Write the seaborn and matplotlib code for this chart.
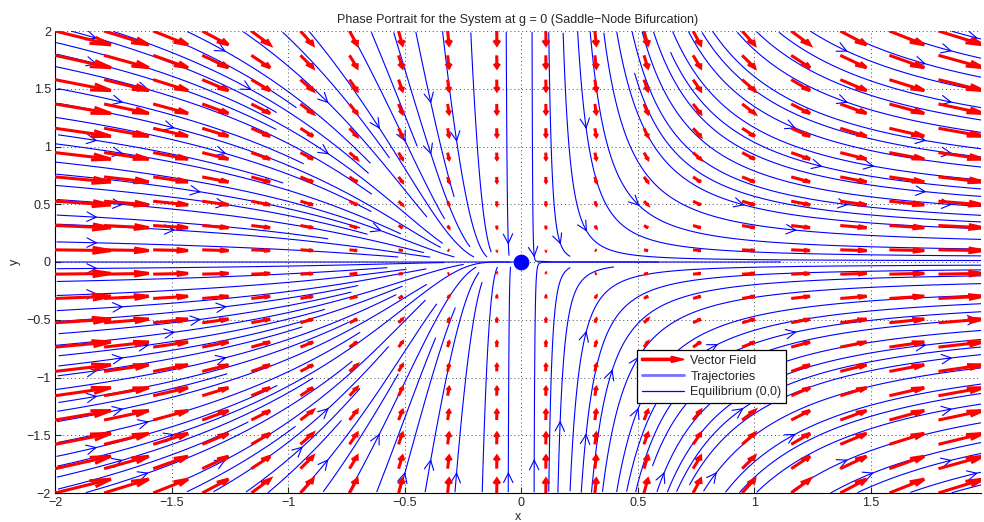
import numpy as np
import pandas as pd
import matplotlib
matplotlib.use("Agg")
import matplotlib.pyplot as plt
import matplotlib.patches as mpatches
from matplotlib.lines import Line2D
from matplotlib.collections import LineCollection
from matplotlib.legend_handler import HandlerPatch
from matplotlib.ticker import FuncFormatter
import seaborn as sns

# System at g = 0:  x' = g + x^2 ,  y' = -y
g = 0.0
x_range = [-2.0, 2.0]
y_range = [-2.0, 2.0]
n_arrows = 20              # quiver grid points per axis
seed_cells = 36            # coarse grid where trajectories may start
stop_cells = 100           # fine grid used to stop trajectories that meet
axis_seed = (-2.0, 0.0)    # initial condition of the invariant line y = 0
equilibrium = {"x": [0.0], "y": [0.0]}
x_ticks = [-2, -1.5, -1, -0.5, 0, 0.5, 1, 1.5]
y_ticks = [-2, -1.5, -1, -0.5, 0, 0.5, 1, 1.5, 2]
title = "Phase Portrait for the System at g = 0 (Saddle\u2212Node Bifurcation)"


def field(x, y):
    return g + x ** 2, -y


def seed_order(n):
    """Coarse-to-fine ordering of grid cells: every 8th, then 4th, 2nd, all."""
    order, seen = [], set()
    for stride in (8, 4, 2, 1):
        off = stride // 2
        for j in range(off, n, stride):
            for i in range(off, n, stride):
                if (i, j) not in seen:
                    seen.add((i, j))
                    order.append((i, j, stride))
    for j in range(n):
        for i in range(n):
            if (i, j) not in seen:
                order.append((i, j, 1))
    return order


def stream_slice(fx, xr, yr, n_start, n_end, first_seeds=()):
    """Evenly spaced trajectories: seeds on a coarse grid, termination on a fine one."""
    w, h = xr[1] - xr[0], yr[1] - yr[0]
    start_used = np.zeros((n_start, n_start), bool)
    owner = np.full((n_end, n_end), -1)
    ds = 0.4 / n_end

    def direction(a, b, sign):
        u, v = fx(xr[0] + a * w, yr[0] + b * h)
        u, v = u / w, v / h
        s = np.hypot(u, v)
        if s < 1e-9:
            return None
        return sign * u / s, sign * v / s

    def trace(a, b, sign, lid):
        pts = []
        for _ in range(4000):
            if not (0 <= a < 1 and 0 <= b < 1):
                break
            ia, ib = int(a * n_end), int(b * n_end)
            if owner[ib, ia] not in (-1, lid):
                break
            owner[ib, ia] = lid
            start_used[int(b * n_start), int(a * n_start)] = True
            pts.append((a, b))
            d1 = direction(a, b, sign)
            if d1 is None:
                break
            d2 = direction(a + 0.5 * ds * d1[0], b + 0.5 * ds * d1[1], sign)
            if d2 is None:
                break
            a, b = a + ds * d2[0], b + ds * d2[1]
        return pts

    seeds = [((sx - xr[0]) / w + 1e-6, (sy - yr[0]) / h + 1e-6, 0) for sx, sy in first_seeds]
    seeds += [((i + 0.5) / n_start, (j + 0.5) / n_start, s) for i, j, s in seed_order(n_start)]

    lines, arrows = [], []
    for lid, (a, b, stride) in enumerate(seeds):
        if stride and start_used[int(b * n_start), int(a * n_start)]:
            continue
        if owner[int(b * n_end), int(a * n_end)] != -1:
            continue
        fwd = trace(a, b, 1.0, lid)
        bwd = trace(a, b, -1.0, lid)
        pts = bwd[::-1] + fwd[1:]
        if len(pts) < 4:
            continue
        arr = np.array(pts)
        xy = np.column_stack([xr[0] + arr[:, 0] * w, yr[0] + arr[:, 1] * h])
        lines.append(xy)
        k = len(bwd) - 1
        if stride >= 2 and k + 1 < len(xy):
            arrows.append((xy[k], xy[k + 1]))
    return lines, arrows


sns.set_style("white")
plt.rcParams["font.family"] = ["Liberation Sans", "DejaVu Sans"]

fig = plt.figure(figsize=(9.84, 5.22), dpi=100)
ax = fig.add_axes([55 / 984, 29 / 522, 926 / 984, 462 / 522])

# vector field: arrows auto-scaled so the longest fits one grid cell,
# heads proportional to arrow length
xq = np.linspace(*x_range, n_arrows)
yq = np.linspace(*y_range, n_arrows)
XQ, YQ = np.meshgrid(xq, yq)
U, V = field(XQ, YQ)
cell = np.hypot(xq[1] - xq[0], yq[1] - yq[0])
auto = 0.9 / np.max(np.hypot(U, V) / cell)
uu, vv = (U * auto).ravel(), (V * auto).ravel()
x0, y0 = XQ.ravel(), YQ.ravel()
alpha, beta = 0.33, 0.33
tip_x, tip_y = x0 + uu, y0 + vv
shafts = np.stack([np.column_stack([x0, y0]),
                   np.column_stack([tip_x, tip_y])], axis=1)
heads = np.stack([
    np.column_stack([tip_x - alpha * (uu + beta * vv), tip_y - alpha * (vv - beta * uu)]),
    np.column_stack([tip_x, tip_y]),
    np.column_stack([tip_x - alpha * (uu - beta * vv), tip_y - alpha * (vv + beta * uu)]),
], axis=1)
ax.add_collection(LineCollection(list(shafts) + list(heads), colors="red",
                                 linewidths=2.2, capstyle="butt",
                                 joinstyle="miter", zorder=3))

# trajectories
traj_lines, traj_arrows = stream_slice(field, x_range, y_range, seed_cells,
                                       stop_cells, first_seeds=[axis_seed])
ax.add_collection(LineCollection(traj_lines, colors="blue", linewidths=0.8,
                                 zorder=2))
for p, q in traj_arrows:
    ax.add_patch(mpatches.FancyArrowPatch(p, q, arrowstyle="->",
                                          mutation_scale=17, color="blue",
                                          lw=0.8, shrinkA=0, shrinkB=0,
                                          zorder=2))

# equilibrium point
sns.scatterplot(data=pd.DataFrame(equilibrium), x="x", y="y", color="blue",
                s=110, edgecolor="blue", ax=ax, zorder=5, legend=False)

ax.set_xlim(x_range[0], 1.972)
ax.set_ylim(*y_range)
ax.set_xticks(x_ticks)
ax.set_yticks(y_ticks)
minus_fmt = FuncFormatter(lambda v, _: f"{v:g}".replace("-", "\u2212"))
ax.xaxis.set_major_formatter(minus_fmt)
ax.yaxis.set_major_formatter(minus_fmt)
ax.tick_params(direction="in", length=4, width=0.8, labelsize=9,
               top=False, right=False, bottom=True, left=True, pad=3)
ax.grid(True, linestyle=(0, (1, 3)), color="0.3", lw=0.7)
for side in ["top", "right"]:
    ax.spines[side].set_visible(False)
for side in ["left", "bottom"]:
    ax.spines[side].set_color("black")
    ax.spines[side].set_linewidth(0.8)

ax.set_title(title, fontsize=9, pad=6)
ax.set_xlabel("x", fontsize=9, labelpad=1)
ax.set_ylabel("y", fontsize=9, labelpad=4)


def arrow_patch(legend, orig_handle, xdescent, ydescent, width, height, fontsize):
    return mpatches.FancyArrow(0, height / 2, width, 0, width=1.6,
                               length_includes_head=True,
                               head_width=height * 0.7,
                               head_length=width * 0.3)


arrow_proxy = mpatches.FancyArrow(0, 0, 1, 0, color="red")
traj_proxy = Line2D([], [], color=(0.45, 0.45, 1.0), lw=2.0)
eq_proxy = Line2D([], [], color="blue", lw=0.9)
leg = ax.legend([arrow_proxy, traj_proxy, eq_proxy],
                ["Vector Field", "Trajectories", "Equilibrium (0,0)"],
                handler_map={mpatches.FancyArrow: HandlerPatch(patch_func=arrow_patch)},
                loc="upper left", bbox_to_anchor=(0.628, 0.31),
                borderaxespad=0, fontsize=9, frameon=True, fancybox=False,
                framealpha=1, edgecolor="black", handlelength=3.4,
                handletextpad=0.5, labelspacing=0.3, borderpad=0.4)
leg.get_frame().set_linewidth(0.9)
leg.set_zorder(10)

fig.savefig("out.png", dpi=100)
